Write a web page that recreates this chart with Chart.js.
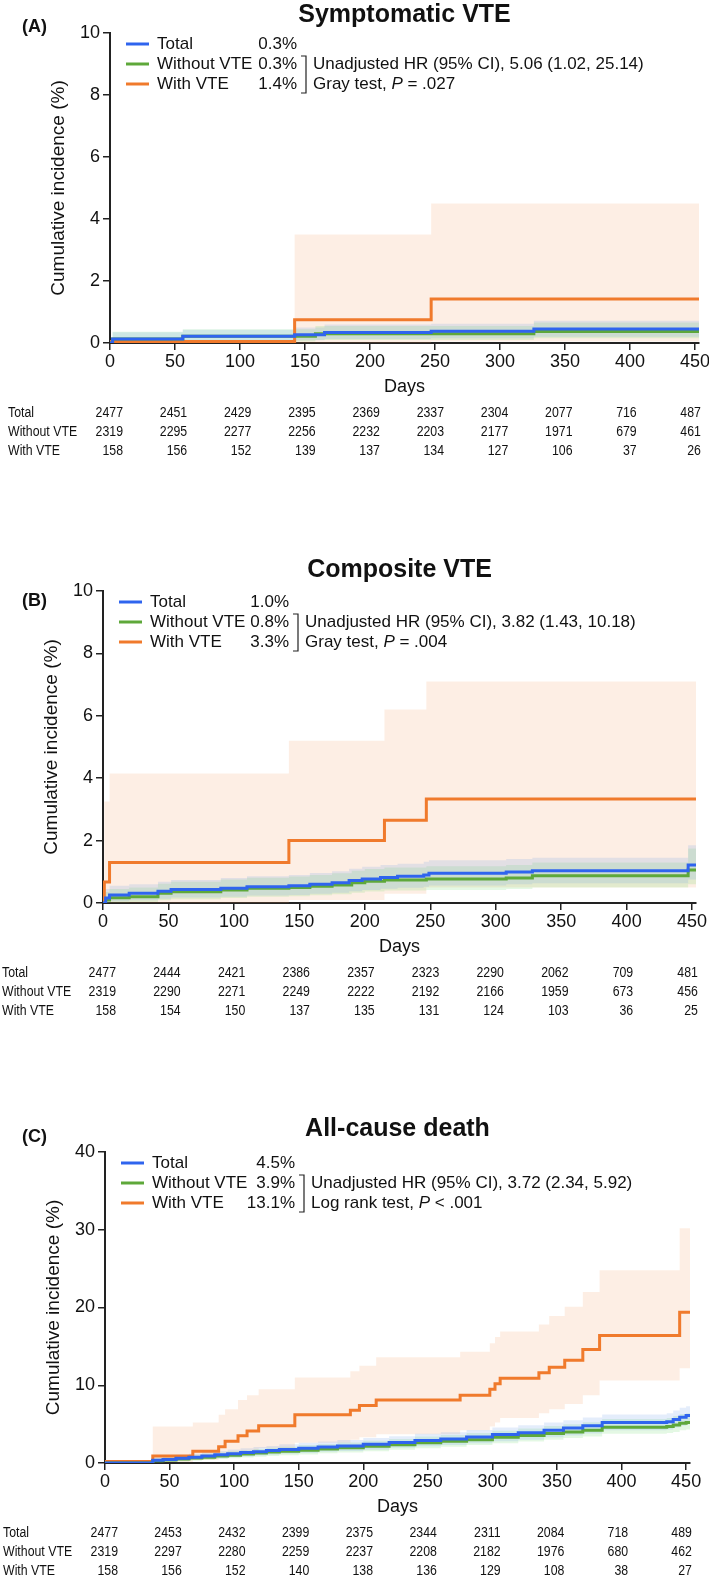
<!DOCTYPE html>
<html>
<head>
<meta charset="utf-8">
<script src="https://cdn.jsdelivr.net/npm/chart.js@4.4.1/dist/chart.umd.min.js"></script>
<style>
  body { margin: 0; background: #fff; width: 709px; height: 1575px; overflow: hidden; position: relative; }
  .panel { position: absolute; left: 0; width: 709px; }
</style>
</head>
<body>
<div class="panel" style="top:0;height:470px"><canvas id="chartA"></canvas></div>
<div class="panel" style="top:550px;height:480px"><canvas id="chartB"></canvas></div>
<div class="panel" style="top:1110px;height:465px"><canvas id="chartC"></canvas></div>
<script>
const FONT = '"Liberation Sans", Arial, Helvetica, sans-serif';
const BLUE = "#2f64ee";
const GREEN = "#5ea83a";
const ORANGE = "#f07a2c";

const groupNames = ["Total", "Without VTE", "With VTE"];
const riskDays = [0, 50, 100, 150, 200, 250, 300, 350, 400, 450];

// (A) Symptomatic VTE
const symTotalDays = [0, 2, 56, 142, 165, 247, 326, 453];
const symTotalPct = [0, 0.13, 0.22, 0.27, 0.34, 0.38, 0.45, 0.45];
const symTotalUpper = [0, 0.35, 0.43, 0.5, 0.6, 0.62, 0.72, 0.72];
const symTotalLower = [0, 0.02, 0.06, 0.09, 0.13, 0.15, 0.2, 0.2];
const symWithoutDays = [0, 2, 56, 158, 326, 453];
const symWithoutPct = [0, 0.13, 0.22, 0.3, 0.37, 0.37];
const symWithoutUpper = [0, 0.36, 0.44, 0.55, 0.66, 0.66];
const symWithoutLower = [0, 0.02, 0.05, 0.1, 0.15, 0.15];
const symWithDays = [0, 142, 247, 453];
const symWithPct = [0.05, 0.75, 1.42, 1.42];
const symWithUpper = [0, 3.5, 4.5, 4.5];
const symWithLower = [0, 0, 0.05, 0.05];
const symLegendPct = ["0.3%", "0.3%", "1.4%"];
const symStats = ["Unadjusted HR (95% CI), 5.06 (1.02, 25.14)", "Gray test, ", "P", " = .027"];
const symRisk = [
  [2477, 2451, 2429, 2395, 2369, 2337, 2304, 2077, 716, 487],
  [2319, 2295, 2277, 2256, 2232, 2203, 2177, 1971, 679, 461],
  [158, 156, 152, 139, 137, 134, 127, 106, 37, 26],
];

// (B) Composite VTE
const compTotalDays = [0, 2, 5, 20, 42, 52, 90, 110, 142, 158, 175, 188, 198, 212, 225, 245, 249, 308, 328, 447, 453];
const compTotalPct = [0, 0.16, 0.26, 0.31, 0.38, 0.43, 0.47, 0.52, 0.55, 0.6, 0.65, 0.72, 0.77, 0.82, 0.86, 0.9, 0.95, 0.99, 1.03, 1.22, 1.22];
const compTotalUpper = [0, 0.45, 0.55, 0.6, 0.68, 0.74, 0.8, 0.86, 0.9, 0.96, 1.02, 1.1, 1.16, 1.22, 1.26, 1.32, 1.37, 1.41, 1.45, 1.85, 1.85];
const compTotalLower = [0, 0.02, 0.06, 0.09, 0.14, 0.18, 0.2, 0.24, 0.26, 0.3, 0.33, 0.38, 0.42, 0.46, 0.49, 0.52, 0.56, 0.6, 0.63, 0.75, 0.75];
const compWithoutDays = [0, 2, 5, 20, 42, 52, 90, 110, 142, 158, 175, 190, 200, 215, 247, 308, 328, 447, 453];
const compWithoutPct = [0, 0.1, 0.17, 0.2, 0.31, 0.36, 0.42, 0.47, 0.5, 0.54, 0.58, 0.65, 0.7, 0.74, 0.77, 0.8, 0.87, 1.06, 1.06];
const compWithoutUpper = [0, 0.35, 0.45, 0.5, 0.62, 0.68, 0.75, 0.81, 0.85, 0.9, 0.95, 1.03, 1.09, 1.14, 1.18, 1.22, 1.3, 1.75, 1.75];
const compWithoutLower = [0, 0, 0.02, 0.03, 0.09, 0.12, 0.16, 0.2, 0.22, 0.25, 0.28, 0.33, 0.37, 0.4, 0.42, 0.45, 0.5, 0.6, 0.6];
const compWithDays = [0, 1, 5, 142, 215, 247, 453];
const compWithPct = [0, 0.67, 1.3, 2.0, 2.65, 3.33, 3.33];
const compWithUpper = [0, 3.25, 4.15, 5.2, 6.2, 7.1, 7.1];
const compWithLower = [0, 0, 0, 0.1, 0.3, 0.5, 0.5];
const compLegendPct = ["1.0%", "0.8%", "3.3%"];
const compStats = ["Unadjusted HR (95% CI), 3.82 (1.43, 10.18)", "Gray test, ", "P", " = .004"];
const compRisk = [
  [2477, 2444, 2421, 2386, 2357, 2323, 2290, 2062, 709, 481],
  [2319, 2290, 2271, 2249, 2222, 2192, 2166, 1959, 673, 456],
  [158, 154, 150, 137, 135, 131, 124, 103, 36, 25],
];

// (C) All-cause death
const deathTotalDays = [0, 37, 45, 55, 65, 75, 85, 95, 105, 115, 125, 135, 150, 165, 180, 200, 220, 240, 260, 280, 300, 320, 340, 355, 370, 385, 435, 440, 445, 450, 453];
const deathTotalPct = [0, 0.35, 0.45, 0.6, 0.75, 0.9, 1.05, 1.2, 1.35, 1.45, 1.6, 1.75, 1.9, 2.05, 2.2, 2.4, 2.65, 2.9, 3.1, 3.35, 3.65, 3.9, 4.2, 4.5, 4.8, 5.2, 5.3, 5.6, 5.9, 6.1, 6.1];
const deathTotalUpper = [0, 0.7, 0.85, 1.05, 1.2, 1.4, 1.55, 1.75, 1.9, 2.05, 2.2, 2.4, 2.6, 2.75, 2.95, 3.2, 3.45, 3.75, 3.95, 4.25, 4.55, 4.85, 5.2, 5.5, 5.85, 6.25, 6.4, 6.75, 7.1, 7.3, 7.3];
const deathTotalLower = [0, 0.1, 0.2, 0.3, 0.4, 0.5, 0.6, 0.75, 0.85, 0.95, 1.05, 1.2, 1.3, 1.45, 1.55, 1.7, 1.95, 2.15, 2.3, 2.55, 2.8, 3.0, 3.3, 3.55, 3.8, 4.2, 4.3, 4.55, 4.8, 5.0, 5.0];
const deathWithoutDays = deathTotalDays;
const deathWithoutPct = [0, 0.3, 0.4, 0.5, 0.65, 0.75, 0.9, 1.0, 1.15, 1.3, 1.4, 1.5, 1.65, 1.8, 1.95, 2.15, 2.35, 2.6, 2.8, 3.0, 3.3, 3.55, 3.8, 4.0, 4.2, 4.6, 4.7, 4.9, 5.1, 5.2, 5.2];
const deathWithoutUpper = [0, 0.6, 0.75, 0.9, 1.05, 1.2, 1.35, 1.5, 1.65, 1.8, 1.95, 2.1, 2.3, 2.45, 2.65, 2.85, 3.1, 3.4, 3.6, 3.85, 4.15, 4.45, 4.75, 5.0, 5.25, 5.65, 5.8, 6.05, 6.3, 6.4, 6.4];
const deathWithoutLower = [0, 0.05, 0.15, 0.2, 0.3, 0.4, 0.5, 0.6, 0.7, 0.8, 0.9, 1.0, 1.1, 1.25, 1.35, 1.5, 1.7, 1.9, 2.1, 2.3, 2.55, 2.75, 3.0, 3.2, 3.4, 3.75, 3.85, 4.0, 4.2, 4.3, 4.3];
const deathWithDays = [0, 37, 68, 88, 93, 103, 110, 119, 147, 190, 197, 210, 275, 298, 302, 306, 336, 344, 356, 370, 383, 445, 453];
const deathWithPct = [0.2, 0.9, 1.5, 2.1, 2.8, 3.5, 4.1, 4.8, 6.2, 6.8, 7.4, 8.1, 8.7, 9.5, 10.2, 10.9, 11.6, 12.3, 13.2, 14.6, 16.4, 19.4, 19.4];
const deathWithUpper = [0, 4.7, 5.2, 6.2, 6.9, 8.1, 8.7, 9.5, 11.0, 11.8, 12.5, 13.6, 14.3, 15.4, 16.2, 16.9, 17.8, 18.9, 20.1, 22.0, 24.8, 30.2, 30.2];
const deathWithLower = [0, 0.1, 0.4, 0.7, 1.0, 1.3, 1.6, 1.9, 2.6, 3.0, 3.3, 3.7, 4.2, 4.7, 5.2, 5.8, 6.4, 6.9, 7.6, 8.7, 10.6, 12.2, 12.2];
const deathLegendPct = ["4.5%", "3.9%", "13.1%"];
const deathStats = ["Unadjusted HR (95% CI), 3.72 (2.34, 5.92)", "Log rank test, ", "P", " < .001"];
const deathRisk = [
  [2477, 2453, 2432, 2399, 2375, 2344, 2311, 2084, 718, 489],
  [2319, 2297, 2280, 2259, 2237, 2208, 2182, 1976, 680, 462],
  [158, 156, 152, 140, 138, 136, 129, 108, 38, 27],
];

Chart.defaults.font.family = FONT;
Chart.defaults.color = "#111";

const pts = (days, pct) => days.map((d, i) => ({ x: d, y: pct[i] }));

function decorPlugin(p) {
  return {
    id: "decor",
    afterDraw(chart) {
      const { ctx, chartArea: ca, scales } = chart;
      const x = scales.x;
      const midX = (ca.left + ca.right) / 2;
      ctx.save();
      ctx.fillStyle = "#111";
      ctx.textBaseline = "middle";

      // title and panel letter
      ctx.font = "bold 25px " + FONT;
      ctx.textAlign = "center";
      ctx.fillText(p.title, midX, p.titleY);
      ctx.font = "bold 18px " + FONT;
      ctx.textAlign = "left";
      ctx.fillText(p.letter, 22, p.letterY);

      // axis titles
      ctx.save();
      ctx.translate(ca.left - 51, (ca.top + ca.bottom) / 2);
      ctx.rotate(-Math.PI / 2);
      ctx.font = "19px " + FONT;
      ctx.textAlign = "center";
      ctx.fillText("Cumulative incidence (%)", 0, 0);
      ctx.restore();
      ctx.font = "18px " + FONT;
      ctx.textAlign = "center";
      ctx.fillText("Days", midX, ca.bottom + 44);

      // legend
      ctx.font = "17px " + FONT;
      p.lines.forEach((s, i) => {
        const y = ca.top + 11 + i * 20;
        ctx.strokeStyle = s.color;
        ctx.lineWidth = 3;
        ctx.beginPath();
        ctx.moveTo(ca.left + 16, y);
        ctx.lineTo(ca.left + 39, y);
        ctx.stroke();
        ctx.textAlign = "left";
        ctx.fillText(groupNames[i], ca.left + 47, y);
        ctx.textAlign = "right";
        ctx.fillText(p.legendPct[i], p.pctRight, y);
      });
      const y1 = ca.top + 31, y2 = ca.top + 51;
      const bx = p.pctRight + 9;
      ctx.strokeStyle = "#222";
      ctx.lineWidth = 1.2;
      ctx.beginPath();
      ctx.moveTo(bx - 5, y1 - 8);
      ctx.lineTo(bx, y1 - 8);
      ctx.lineTo(bx, y2 + 9);
      ctx.lineTo(bx - 5, y2 + 9);
      ctx.stroke();
      ctx.textAlign = "left";
      const tx = bx + 7;
      ctx.fillText(p.stats[0], tx, y1);
      let cx = tx;
      ctx.fillText(p.stats[1], cx, y2);
      cx += ctx.measureText(p.stats[1]).width;
      ctx.font = "italic 17px " + FONT;
      ctx.fillText(p.stats[2], cx, y2);
      cx += ctx.measureText(p.stats[2]).width;
      ctx.font = "17px " + FONT;
      ctx.fillText(p.stats[3], cx, y2);

      // numbers at risk
      ctx.font = "14px " + FONT;
      p.risk.forEach((row, r) => {
        const y = ca.bottom + 70 + r * 19;
        ctx.save();
        ctx.translate(p.tableX, y);
        ctx.scale(0.88, 1);
        ctx.textAlign = "left";
        ctx.fillText(groupNames[r], 0, 0);
        ctx.restore();
        row.forEach((v, c) => {
          const px = x.getPixelForValue(riskDays[c]) + 13 - c * 0.8;
          ctx.save();
          ctx.translate(px, y);
          ctx.scale(0.88, 1);
          ctx.textAlign = "right";
          ctx.fillText(String(v), 0, 0);
          ctx.restore();
        });
      });
      ctx.restore();
    },
  };
}

function makePanel(id, p) {
  const datasets = [];
  p.lines.forEach((s, i) => {
    datasets.push({
      data: pts(s.days, s.pct),
      borderColor: s.color,
      borderWidth: 3,
      pointRadius: 0,
      stepped: "before",
      fill: false,
      order: i,
    });
  });
  p.bands.forEach((b, i) => {
    datasets.push({
      data: pts(b.days, b.upper),
      borderColor: "transparent",
      borderWidth: 0,
      pointRadius: 0,
      stepped: "before",
      fill: "+1",
      backgroundColor: b.color,
      order: 10 + i,
    });
    datasets.push({
      data: pts(b.days, b.lower),
      borderColor: "transparent",
      borderWidth: 0,
      pointRadius: 0,
      stepped: "before",
      fill: false,
      order: 10 + i,
    });
  });

  const h = document.getElementById(id).parentNode.clientHeight;
  return new Chart(document.getElementById(id), {
    type: "line",
    data: { datasets },
    plugins: [decorPlugin(p)],
    options: {
      responsive: true,
      maintainAspectRatio: false,
      animation: false,
      devicePixelRatio: 1,
      layout: { padding: { top: p.area.top, right: 709 - p.area.right, left: 0, bottom: 0 } },
      plugins: { legend: { display: false }, tooltip: { enabled: false } },
      scales: {
        x: {
          type: "linear",
          min: 0,
          max: 453,
          afterFit: (s) => { s.height = h - p.area.bottom; s.paddingLeft = 0; s.paddingRight = 0; },
          ticks: { stepSize: 50, includeBounds: false, autoSkip: false, maxRotation: 0, padding: 1, font: { size: 18 }, color: "#111" },
          grid: { drawOnChartArea: false, drawTicks: true, tickLength: 7, color: "#222", lineWidth: 1.5 },
          border: { display: true, color: "#222", width: 2 },
        },
        y: {
          min: 0,
          max: p.yMax,
          afterFit: (s) => { s.width = p.area.left; s.paddingTop = 0; s.paddingBottom = 0; },
          ticks: { stepSize: p.yStep, padding: 3, font: { size: 18 }, color: "#111" },
          grid: { drawOnChartArea: false, drawTicks: true, tickLength: 7, color: "#222", lineWidth: 1.5 },
          border: { display: true, color: "#222", width: 2 },
        },
      },
    },
  });
}

const orangeBand = "rgba(242,150,90,0.16)";
const greenBand = "rgba(90,210,90,0.16)";
const blueBand = "rgba(90,140,230,0.16)";

makePanel("chartA", {
  title: "Symptomatic VTE", titleY: 15, letter: "(A)", letterY: 27,
  area: { left: 110, top: 33, right: 699, bottom: 343 },
  yMax: 10, yStep: 2, pctRight: 297, tableX: 8,
  legendPct: symLegendPct, stats: symStats, risk: symRisk,
  lines: [
    { color: BLUE, days: symTotalDays, pct: symTotalPct },
    { color: GREEN, days: symWithoutDays, pct: symWithoutPct },
    { color: ORANGE, days: symWithDays, pct: symWithPct },
  ],
  bands: [
    { color: blueBand, days: symTotalDays, upper: symTotalUpper, lower: symTotalLower },
    { color: greenBand, days: symWithoutDays, upper: symWithoutUpper, lower: symWithoutLower },
    { color: orangeBand, days: symWithDays, upper: symWithUpper, lower: symWithLower },
  ],
});

makePanel("chartB", {
  title: "Composite VTE", titleY: 20, letter: "(B)", letterY: 51,
  area: { left: 103, top: 41, right: 696, bottom: 353 },
  yMax: 10, yStep: 2, pctRight: 289, tableX: 2,
  legendPct: compLegendPct, stats: compStats, risk: compRisk,
  lines: [
    { color: BLUE, days: compTotalDays, pct: compTotalPct },
    { color: GREEN, days: compWithoutDays, pct: compWithoutPct },
    { color: ORANGE, days: compWithDays, pct: compWithPct },
  ],
  bands: [
    { color: blueBand, days: compTotalDays, upper: compTotalUpper, lower: compTotalLower },
    { color: greenBand, days: compWithoutDays, upper: compWithoutUpper, lower: compWithoutLower },
    { color: orangeBand, days: compWithDays, upper: compWithUpper, lower: compWithLower },
  ],
});

makePanel("chartC", {
  title: "All-cause death", titleY: 19, letter: "(C)", letterY: 27,
  area: { left: 105, top: 42, right: 690, bottom: 353 },
  yMax: 40, yStep: 10, pctRight: 295, tableX: 3,
  legendPct: deathLegendPct, stats: deathStats, risk: deathRisk,
  lines: [
    { color: BLUE, days: deathTotalDays, pct: deathTotalPct },
    { color: GREEN, days: deathWithoutDays, pct: deathWithoutPct },
    { color: ORANGE, days: deathWithDays, pct: deathWithPct },
  ],
  bands: [
    { color: blueBand, days: deathTotalDays, upper: deathTotalUpper, lower: deathTotalLower },
    { color: greenBand, days: deathWithoutDays, upper: deathWithoutUpper, lower: deathWithoutLower },
    { color: orangeBand, days: deathWithDays, upper: deathWithUpper, lower: deathWithLower },
  ],
});
</script>
</body>
</html>
